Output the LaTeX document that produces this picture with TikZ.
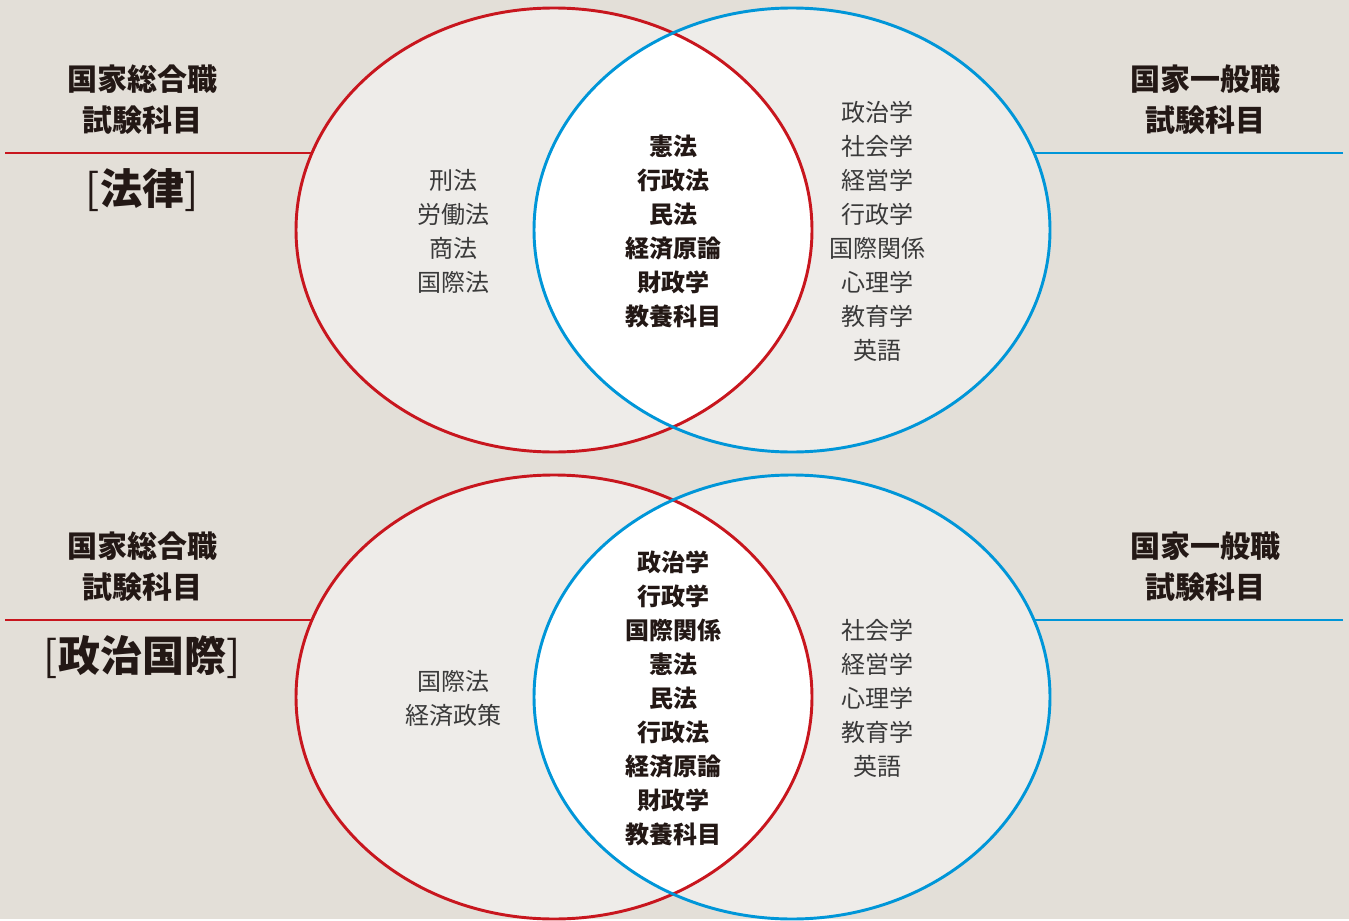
\documentclass[tikz,border=0pt]{standalone}
\usepackage{fontspec}
\usetikzlibrary{shapes.geometric}
\newfontfamily\jp{Noto Sans CJK JP}
\definecolor{bgbeige}{HTML}{E3DFD8}
\definecolor{vennfill}{HTML}{EEECE9}
\definecolor{kokured}{HTML}{C8161E}
\definecolor{ippanblue}{HTML}{0096D8}
\definecolor{inkgray}{HTML}{3A3A3A}
\definecolor{inkblack}{HTML}{231815}

\begin{document}
\begin{tikzpicture}[x=0.75pt, y=-0.75pt,
	venn/.style={ellipse, minimum width=387pt, minimum height=333pt, inner sep=0pt, fill=vennfill},
	ring/.style={line width=2.2pt},
	rule/.style={line width=1.5pt},
	subj/.style={align=center, text=inkgray, font=\jp\fontsize{18pt}{25.5pt}\selectfont},
	core/.style={align=center, text=inkblack, font=\jp\bfseries\fontsize{18pt}{25.5pt}\selectfont},
	exam/.style={align=center, text=inkblack, font=\jp\bfseries\fontsize{22.5pt}{30.75pt}\selectfont},
	course/.style={text=inkblack, font=\jp\bfseries\fontsize{31.5pt}{36pt}\selectfont}]

	\fill[bgbeige] (0,0) rectangle (1349,919);

	\coordinate (LawRedC) at (554,230);
	\coordinate (LawBlueC) at (792,230);
	\coordinate (PolRedC) at (554,697);
	\coordinate (PolBlueC) at (792,697);
	\coordinate (LawRuleL) at (5,153);
	\coordinate (LawRuleR) at (1343,153);
	\coordinate (PolRuleL) at (5,620);
	\coordinate (PolRuleR) at (1343,620);

	\draw[rule, kokured] (LawRuleL) -- (LawRuleL -| LawRedC);
	\draw[rule, ippanblue] (LawRuleR) -- (LawRuleR -| LawBlueC);
	\draw[rule, kokured] (PolRuleL) -- (PolRuleL -| PolRedC);
	\draw[rule, ippanblue] (PolRuleR) -- (PolRuleR -| PolBlueC);

	\node[venn] (LawRed) at (LawRedC) {};
	\node[venn] (LawBlue) at (LawBlueC) {};
	\node[venn] (PolRed) at (PolRedC) {};
	\node[venn] (PolBlue) at (PolBlueC) {};

	\begin{scope}
		\clip (LawRed.center) ellipse [x radius=193.5pt, y radius=166.5pt];
		\fill[white] (LawBlue.center) ellipse [x radius=193.5pt, y radius=166.5pt];
	\end{scope}
	\begin{scope}
		\clip (PolRed.center) ellipse [x radius=193.5pt, y radius=166.5pt];
		\fill[white] (PolBlue.center) ellipse [x radius=193.5pt, y radius=166.5pt];
	\end{scope}

	\draw[ring, kokured] (LawRed.center) ellipse [x radius=193.5pt, y radius=166.5pt];
	\draw[ring, ippanblue] (LawBlue.center) ellipse [x radius=193.5pt, y radius=166.5pt];
	\draw[ring, kokured] (PolRed.center) ellipse [x radius=193.5pt, y radius=166.5pt];
	\draw[ring, ippanblue] (PolBlue.center) ellipse [x radius=193.5pt, y radius=166.5pt];

	\node[exam] (LawSogo) at (142,100) {国家総合職\\試験科目};
	\node[course] (LawCourse) at (142,190) {{\mdseries[}法律{\mdseries]}};
	\node[exam] (LawIppan) at (1205,100) {国家一般職\\試験科目};

	\node[subj] (LawSogoOnly) at (453,231) {刑法\\労働法\\商法\\国際法};
	\node[core] (LawCommon) at (673,231) {憲法\\行政法\\民法\\経済原論\\財政学\\教養科目};
	\node[subj] (LawIppanOnly) at (877,231) {政治学\\社会学\\経営学\\行政学\\国際関係\\心理学\\教育学\\英語};

	\node[exam] (PolSogo) at (142,567) {国家総合職\\試験科目};
	\node[course] (PolCourse) at (142,657) {{\mdseries[}政治国際{\mdseries]}};
	\node[exam] (PolIppan) at (1205,567) {国家一般職\\試験科目};

	\node[subj] (PolSogoOnly) at (453,698) {国際法\\経済政策};
	\node[core] (PolCommon) at (673,698) {政治学\\行政学\\国際関係\\憲法\\民法\\行政法\\経済原論\\財政学\\教養科目};
	\node[subj] (PolIppanOnly) at (877,698) {社会学\\経営学\\心理学\\教育学\\英語};
\end{tikzpicture}
\end{document}
